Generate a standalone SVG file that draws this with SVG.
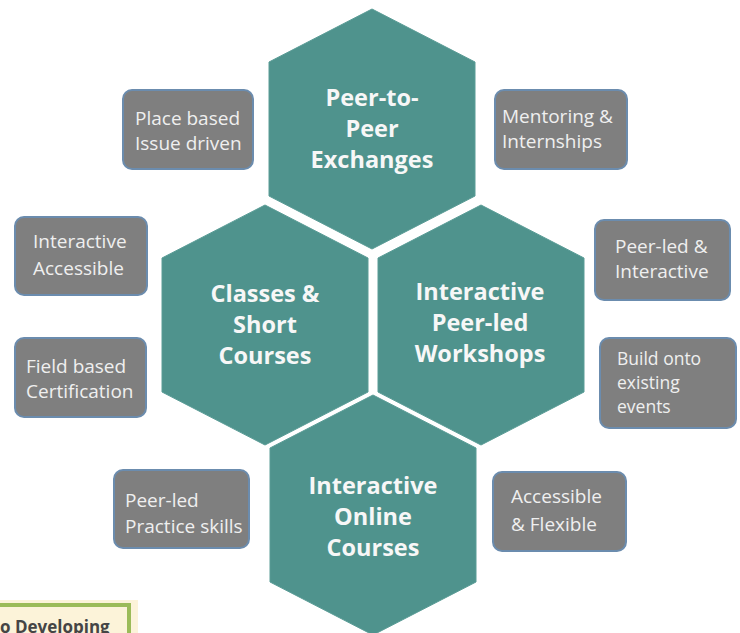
<svg xmlns="http://www.w3.org/2000/svg" width="740" height="633" viewBox="0 0 740 633">
  <style>
    .hex { fill: #4f938d; stroke: #5a9c96; stroke-width: 1; }
    .hext { font-family: "Open Sans", "Noto Sans", sans-serif; font-weight: 700; font-size: 23.5px; fill: #f7f7f7; text-anchor: middle; }
    .box { fill: #7f7f7f; stroke: #6b8cae; stroke-width: 2; }
    .boxt { font-family: "Open Sans", "Noto Sans", sans-serif; font-size: 19px; fill: #efefef; }
    .boxs { font-size: 17.5px; }
  </style>
  <rect x="0" y="0" width="740" height="633" fill="#ffffff"/>

  <g id="hex-peer-exchanges">
    <polygon class="hex" points="372,9 475,62 475,196 372,249 269,196 269,62"/>
    <text class="hext" x="372" y="106">Peer-to-</text>
    <text class="hext" x="372" y="137">Peer</text>
    <text class="hext" x="372" y="168">Exchanges</text>
  </g>
  <g id="hex-classes">
    <polygon class="hex" points="265,205 368,258 368,392 265,445 162,392 162,258"/>
    <text class="hext" x="265" y="302">Classes &amp;</text>
    <text class="hext" x="265" y="333">Short</text>
    <text class="hext" x="265" y="364">Courses</text>
  </g>
  <g id="hex-workshops">
    <polygon class="hex" points="481,205 584,258 584,392 481,445 378,392 378,258"/>
    <text class="hext" x="480" y="300">Interactive</text>
    <text class="hext" x="480" y="331">Peer-led</text>
    <text class="hext" x="480" y="362">Workshops</text>
  </g>
  <g id="hex-online">
    <polygon class="hex" points="373,395 476,448 476,582 373,635 270,582 270,448"/>
    <text class="hext" x="373" y="494">Interactive</text>
    <text class="hext" x="373" y="525">Online</text>
    <text class="hext" x="373" y="556">Courses</text>
  </g>

  <g id="box-place-based">
    <rect class="box" x="123" y="90" width="130" height="79" rx="9"/>
    <text class="boxt" x="135" y="125">Place based</text>
    <text class="boxt" x="135" y="150">Issue driven</text>
  </g>
  <g id="box-interactive-accessible">
    <rect class="box" x="15" y="217" width="132" height="78" rx="9"/>
    <text class="boxt" x="33" y="248">Interactive</text>
    <text class="boxt" x="33" y="275">Accessible</text>
  </g>
  <g id="box-field-based">
    <rect class="box" x="15" y="338" width="131" height="79" rx="9"/>
    <text class="boxt" x="26" y="373">Field based</text>
    <text class="boxt" x="26" y="398">Certification</text>
  </g>
  <g id="box-mentoring">
    <rect class="box" x="495" y="90" width="132" height="79" rx="9"/>
    <text class="boxt" x="502" y="123">Mentoring &amp;</text>
    <text class="boxt" x="502" y="148">Internships</text>
  </g>
  <g id="box-peer-led-interactive">
    <rect class="box" x="595" y="220" width="135" height="80" rx="9"/>
    <text class="boxt" x="615" y="253">Peer-led &amp;</text>
    <text class="boxt" x="615" y="278">Interactive</text>
  </g>
  <g id="box-build-onto">
    <rect class="box" x="600" y="338" width="136" height="90" rx="9"/>
    <text class="boxt boxs" x="617" y="365">Build onto</text>
    <text class="boxt boxs" x="617" y="389">existing</text>
    <text class="boxt boxs" x="617" y="413">events</text>
  </g>
  <g id="box-peer-led-practice">
    <rect class="box" x="114" y="470" width="135" height="78" rx="9"/>
    <text class="boxt" x="125" y="507">Peer-led</text>
    <text class="boxt" x="125" y="533">Practice skills</text>
  </g>
  <g id="box-accessible-flexible">
    <rect class="box" x="493" y="472" width="133" height="79" rx="9"/>
    <text class="boxt" x="511" y="503">Accessible</text>
    <text class="boxt" x="511" y="531">&amp; Flexible</text>
  </g>

  <g id="note-developing">
    <rect x="-5" y="600" width="143" height="40" fill="#fcf3d9"/>
    <rect x="-5" y="605" width="134" height="35" fill="none" stroke="#9bbb59" stroke-width="4"/>
    <text x="0" y="633" font-family="Open Sans, Noto Sans, sans-serif" font-weight="700" font-size="17" fill="#454545">o Developing</text>
  </g>

  <g id="connectors"/>
</svg>
